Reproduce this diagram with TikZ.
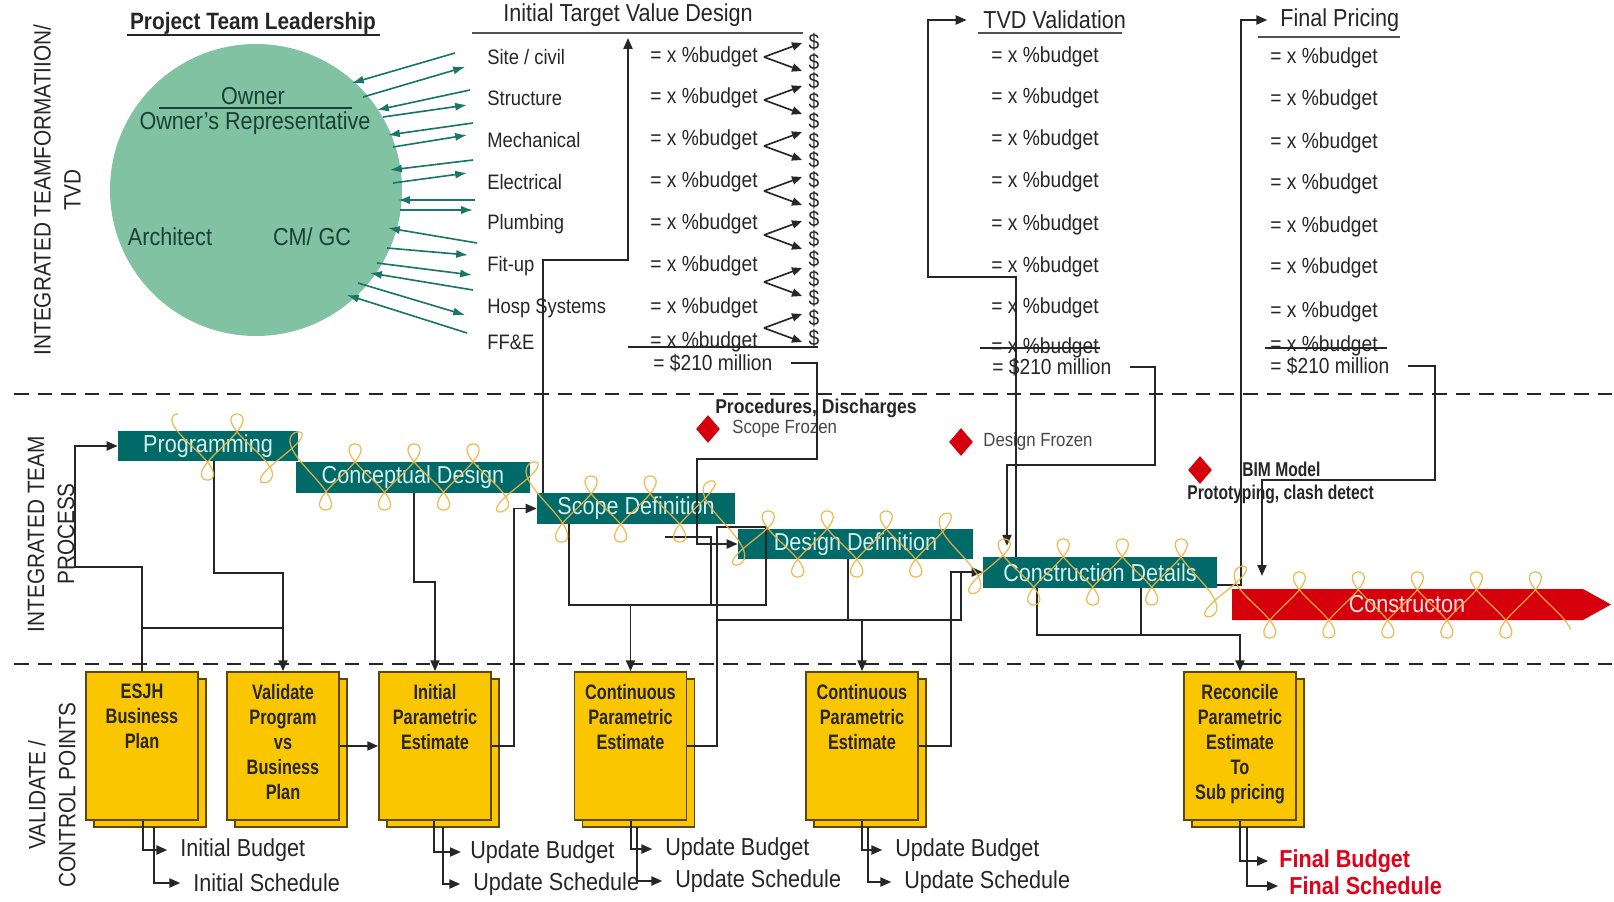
\documentclass[tikz,border=0pt]{standalone}
\usepackage{fontspec}
\setmainfont{Liberation Sans}[FakeStretch=0.88]
\newfontfamily\narrowfont{Liberation Sans}[FakeStretch=0.78]
\usetikzlibrary{arrows.meta,shapes.geometric,shadows}

\definecolor{ink}{RGB}{38,38,38}
\definecolor{teamfill}{RGB}{128,194,162}
\definecolor{teamtext}{RGB}{28,64,52}
\definecolor{tealarrow}{RGB}{28,118,104}
\definecolor{stageteal}{RGB}{0,106,104}
\definecolor{stagetext}{RGB}{214,238,234}
\definecolor{gold}{RGB}{250,198,0}
\definecolor{goldedge}{RGB}{92,72,0}
\definecolor{alarm}{RGB}{214,0,12}
\definecolor{finalred}{RGB}{226,0,26}
\definecolor{coil}{RGB}{238,180,70}

\newcommand\myfs[2]{\fontsize{#1}{#2}\selectfont}
\newcommand\px{0.55pt}

\begin{document}
\begin{tikzpicture}[x=0.55pt,y=-0.55pt,
  txt/.style={inner sep=0pt, text=ink},
  lane/.style={txt, rotate=90, align=center, font=\myfs{13}{16.5}},
  conn/.style={draw=ink, line width=1pt, -{Triangle[length=6pt,width=5pt]}},
  wire/.style={draw=ink, line width=1pt},
  rule/.style={draw=ink!80, line width=1.2pt},
  budarrow/.style={draw=ink, line width=0.9pt, -{Triangle[length=5.5pt,width=4.5pt]}},
  tarrow/.style={draw=tealarrow, line width=0.9pt, -{Latex[length=6.5pt,width=4.5pt]}},
  stage/.style={fill=stageteal, text=stagetext, inner sep=0pt, font=\myfs{13.5}{15}},
  sheet/.style={fill=gold, draw=goldedge, line width=0.9pt, minimum width=112*\px,
    minimum height=148*\px, inner sep=0pt,
    copy shadow={shadow xshift=4.4pt, shadow yshift=-3.9pt, fill=gold, draw=goldedge, line width=0.9pt}},
  boxtext/.style={inner sep=0pt, align=center, text=ink, font=\narrowfont\bfseries\myfs{11.5}{13.75}},
  budget/.style={txt, font=\myfs{12}{14}},
  rowlab/.style={txt, anchor=west, font=\myfs{11.5}{14}},
  outtext/.style={txt, anchor=west, font=\myfs{13.5}{15}},
  finaltext/.style={inner sep=0pt, anchor=west, text=finalred, font=\bfseries\myfs{13.5}{15}},
  milestone/.style={diamond, fill=alarm, minimum width=24*\px, minimum height=28*\px, inner sep=0pt},
  note/.style={txt, anchor=west, font=\myfs{10.5}{12}},
  wavy/.style={draw=coil, line width=0.7pt, line join=round, opacity=0.9},
  sep/.style={draw=ink, line width=1.1pt, dash pattern=on 8pt off 5pt}
]
\fill[white] (0,0) rectangle (1614,902);
\useasboundingbox (0,0) rectangle (1614,902);

% lane titles
\node[lane] (laneA) at (57,190) {INTEGRATED TEAMFORMATIION/\\TVD};
\node[lane] (laneB) at (51,534) {INTEGRATED TEAM\\PROCESS};
\node[lane] (laneC) at (52,795) {VALIDATE /\\CONTROL POINTS};

% lane separators
\draw[sep] (14,394) -- (1614,394);
\draw[sep] (14,664) -- (1614,664);

% project team
\node[txt, font=\bfseries\myfs{13}{15}] (ptl) at (253,23) {Project Team Leadership};
\draw[ink, line width=1pt] (127,35) -- (380,35);
\node[circle, fill=teamfill, minimum size=292*\px, inner sep=0pt] (team) at (256,190) {};
\node[txt, text=teamtext, font=\myfs{13.5}{15}] (owner) at (253,96) {Owner};
\draw[teamtext, line width=1pt] (159,108) -- (352,108);
\node[txt, text=teamtext, font=\myfs{13.5}{15}] (rep) at (255,123) {Owner’s Representative};
\node[txt, text=teamtext, font=\myfs{13.5}{15}] (arch) at (170,237) {Architect};
\node[txt, text=teamtext, font=\myfs{13.5}{15}] (cmgc) at (312,237) {CM/ GC};

% links between the team and the trades
\foreach \sx/\sy/\ex/\ey in {455/53/352/83, 470/90/377/110, 473/123/388/135, 473/160/390/170,
  475/200/398/200, 477/243/388/228, 473/290/370/273, 467/333/347/295,
  363/97/465/67, 383/117/467/105, 393/147/467/135, 393/183/467/173,
  400/210/473/210, 387/248/468/255, 377/263/472/275, 358/283/465/315}
  \draw[tarrow] (\sx,\sy) -- (\ex,\ey);

% initial target value design
\node[txt, font=\myfs{13.5}{15}] (itvd) at (628,15) {Initial Target Value Design};
\draw[rule] (472,33) -- (803,33);
\foreach \yy/\lab in {57/{Site / civil}, 98/Structure, 140/Mechanical, 182/Electrical,
  224/Plumbing, 266/Fit-up, 308/{Hosp Systems}, 342/{FF\&E}}
  \node[rowlab] (row\yy) at (487,\yy) {\lab};
\foreach \yy in {57,98,140,182,224,266,308,342}
  \node[budget] (ib\yy) at (704,\yy) {= x \%budget};
\foreach \s in {57,100,146,191,235,282,328}{
  \draw[budarrow] (764,\s) -- (802,\s-14);
  \draw[budarrow] (764,\s) -- (802,\s+14);
}
% stacked dollar column
\node[txt, align=center, font=\myfs{12}{10.85}] (dollars) at (814,190)
  {\$\\\$\\\$\\\$\\\$\\\$\\\$\\\$\\\$\\\$\\\$\\\$\\\$\\\$\\\$\\\$};
\draw[wire] (628,347) -- (818,347);
\node[budget, anchor=west] (m210a) at (653,363) {= \$210 million};

% TVD validation
\node[txt, anchor=west, font=\myfs{13.5}{15}] (tvdv) at (983,20) {TVD Validation};
\draw[rule] (978,33) -- (1122,33);
\foreach \yy in {57,98,140,182,225,267,308,348}
  \node[budget] (tv\yy) at (1045,\yy) {= x \%budget};
\draw[wire] (980,348) -- (1100,348);
\node[budget, anchor=west] (m210b) at (992,367) {= \$210 million};

% final pricing
\node[txt, anchor=west, font=\myfs{13.5}{15}] (fp) at (1280,20) {Final Pricing};
\draw[rule] (1258,37) -- (1400,37);
\foreach \yy in {58,100,143,184,227,268,312,346}
  \node[budget] (fpb\yy) at (1324,\yy) {= x \%budget};
\draw[wire] (1265,348) -- (1387,348);
\node[budget, anchor=west] (m210c) at (1270,366) {= \$210 million};

% process stages
\node[stage, minimum width=180*\px, minimum height=30*\px] (prog) at (208,446) {Programming};
\node[stage, minimum width=234*\px, minimum height=31*\px] (concept) at (413,477.5) {Conceptual Design};
\node[stage, minimum width=198*\px, minimum height=31*\px] (scope) at (636,508.5) {Scope Definition};
\node[stage, minimum width=235*\px, minimum height=30*\px] (dd) at (855.5,544) {Design Definition};
\node[stage, minimum width=234*\px, minimum height=31*\px] (cd) at (1100,572.5) {Construction Details};
\fill[alarm] (1232,589) -- (1583,589) -- (1611,604.5) -- (1583,620) -- (1232,620) -- cycle;
\node[txt, text=white!90!red, minimum width=350*\px, minimum height=31*\px, font=\myfs{13.5}{15}] (constr) at (1407,604.5) {Constructon};

% milestones
\node[txt, font=\bfseries\myfs{11}{13}] (proc) at (816,408) {Procedures, Discharges};
\node[milestone] (msA) at (708,429) {};
\node[note, text=ink!85] (msAt) at (732,429) {Scope Frozen};
\node[milestone] (msB) at (961,442) {};
\node[note, text=ink!85] (msBt) at (983,442) {Design Frozen};
\node[milestone] (msC) at (1200,470) {};
\node[note, font=\narrowfont\bfseries\myfs{11}{12}] (msCt) at (1242,469) {BIM Model};
\node[note, font=\narrowfont\bfseries\myfs{11}{12}] (msCu) at (1187,494) {Prototyping, clash detect};

% validation sheets
\node[sheet] (b1) at (142,746) {};
\node[sheet] (b2) at (283,746) {};
\node[sheet] (b3) at (435,746) {};
\node[sheet] (b4) at (630.5,746) {};
\node[sheet] (b5) at (862,746) {};
\node[sheet] (b6) at (1240,746) {};
\node[boxtext, anchor=north] (b1t) at (142,684) {ESJH\\Business\\Plan};
\node[boxtext, anchor=north] (b2t) at (283,684) {Validate\\Program\\vs\\Business\\Plan};
\node[boxtext, anchor=north] (b3t) at (435,684) {Initial\\Parametric\\Estimate};
\node[boxtext, anchor=north] (b4t) at (630.5,684) {Continuous\\Parametric\\Estimate};
\node[boxtext, anchor=north] (b5t) at (862,684) {Continuous\\Parametric\\Estimate};
\node[boxtext, anchor=north] (b6t) at (1240,684) {Reconcile\\Parametric\\Estimate\\To\\Sub pricing};

% budget / schedule outputs
\node[outtext] (o1a) at (180,850) {Initial Budget};
\node[outtext] (o1b) at (193,883) {Initial Schedule};
\node[outtext] (o3a) at (470,852) {Update Budget};
\node[outtext] (o3b) at (473,884) {Update Schedule};
\node[outtext] (o4a) at (665,849) {Update Budget};
\node[outtext] (o4b) at (675,881) {Update Schedule};
\node[outtext] (o5a) at (895,850) {Update Budget};
\node[outtext] (o5b) at (904,882) {Update Schedule};
\node[finaltext] (o6a) at (1279,861) {Final Budget};
\node[finaltext] (o6b) at (1289,886) {Final Schedule};
\draw[conn] (b1.south -| 143,0) |- ([xshift=-7pt]o1a.west);
\draw[conn] (154,827) |- ([xshift=-7pt]o1b.west);
\draw[conn] (b3.south -| 434,0) |- ([xshift=-5pt]o3a.west);
\draw[conn] (443,827) |- ([xshift=-7pt]o3b.west);
\draw[conn] (b4.south -| 631,0) |- ([xshift=-7pt]o4a.west);
\draw[conn] (637,827) |- ([xshift=-7pt]o4b.west);
\draw[conn] (b5.south -| 862,0) |- ([xshift=-7pt]o5a.west);
\draw[conn] (868,827) |- ([xshift=-7pt]o5b.west);
\draw[conn] (b6.south -| 1240,0) |- ([xshift=-6pt]o6a.west);
\draw[conn] (1247,827) |- ([xshift=-6pt]o6b.west);

% flow between sheets and stages
\draw[conn] (b1.north) |- (75,567) |- (prog.west);
\draw[wire] (142,628) -- (283,628);
\draw[conn] (prog.south -| 214,0) |- (283,573) -- (b2.north);
\draw[conn] (concept.south -| 414,0) |- (435,582) -- (b3.north);
\draw[conn] (b2.east) -- (b3.west);
\draw[conn] (b3.east) -| (514,508.5) -- (scope.west);
\draw[wire] (scope.south -| 569,0) |- (766,605) |- (717,527) -- (717,620);
\draw[wire] (665,537) -| (711,605);
\draw[conn] (b4.north |- 0,605) -- (b4.north);
\draw[conn] (dd.south -| 848,0) |- (862,620) -- (b5.north);
\draw[conn] (b4.east) -| (717,620) -| (961,572) -- (cd.west |- 0,572);
\draw[wire] (b5.east) -| (951,572) -- (961,572);
\draw[wire] (cd.south -| 1037,0) |- (1141,635);
\draw[conn] (cd.south -| 1141,0) |- (1240,635) -- (b6.north);

% feedback to the target value design columns
\draw[conn] (scope.north -| 543,0) |- (628,260) -- (628,38);
\draw[conn] ([xshift=10pt]m210a.east) -| (817,459) -| (697,544) -- (dd.west);
\draw[conn] (cd.north -| 1016,0) |- (928,277) |- ([xshift=-9pt]tvdv.west);
\draw[conn, shorten >=6pt] ([xshift=10pt]m210b.east) -| (1155,465) -| (cd.north -| 1007,0);
\draw[conn] (cd.east |- 0,585) -| (1241,20) -- ([xshift=-7pt]fp.west);
\draw[conn, shorten >=7pt] ([xshift=10pt]m210c.east) -| (1435,480) -| (constr.north -| 1262,0);

% coil running along the stages
\foreach \xa/\ya/\xb/\yb in {178/447/262/447, 262/447/318/477, 318/477/500/477, 500/477/556/509,
  556/509/700/509, 700/509/760/544, 760/544/940/544, 940/544/1000/572, 1000/572/1190/572,
  1190/572/1250/605, 1250/605/1558/605}{
  \draw[wavy] plot[domain=\xa:\xb, samples=240, variable=\X]
    ({\X - 25*sin(6.1*(\X-178))*cos(6.1*(\X-178))},
     {\ya + (\yb-\ya)*(\X-\xa)/(\xb-\xa) - 33*cos(6.1*(\X-178))});
}
\end{tikzpicture}
\end{document}
